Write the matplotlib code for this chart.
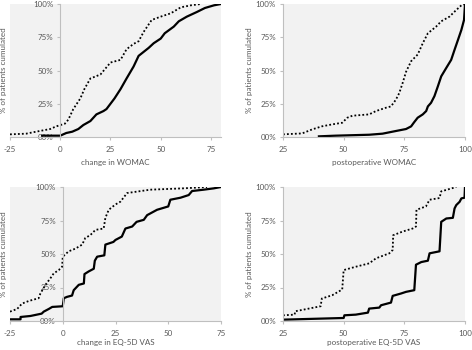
import matplotlib
matplotlib.use("Agg")
import matplotlib.pyplot as plt

# ---------------- data ----------------
# Panel 1: change in WOMAC
womac_change_solid_x = [-9, 0, 3, 6, 9, 11.5, 15, 18, 21.5, 23, 25, 27, 30, 33, 36.5, 39, 41.5, 44,
                        46.5, 50, 52, 56.5, 59, 63, 68, 72, 76.5, 80]
womac_change_solid_y = [1, 1, 3, 4, 6, 9, 12, 17, 19.5, 21, 25, 29, 36, 44, 53, 61, 64, 67,
                        70.5, 74, 78, 83, 87, 90.5, 94, 97, 99, 100]
womac_change_dot_x = [-25, -17, -12, -5, -2, 2.3, 4, 6.5, 10, 12, 15, 20, 25, 30, 33, 36.5, 39, 41.5,
                      45.5, 50, 55, 60, 65, 70]
womac_change_dot_y = [2, 2.5, 4, 6, 8, 10, 13, 21, 29, 36, 44, 47, 56, 58, 66, 70, 72, 79,
                      88, 90.5, 93, 97.5, 99, 100]

# Panel 2: postoperative WOMAC
womac_post_solid_x = [39.8, 46.7, 60.5, 66, 71.5, 75.7, 77.8, 79, 80.5, 82.6, 84, 84.7, 86, 87.4,
                      88.8, 90.2, 92.3, 94.3, 95.7, 97.1, 98.5, 99.6, 100]
womac_post_solid_y = [0.5, 1, 1.7, 2.5, 4.5, 6, 8, 11, 14.5, 17, 19.5, 23, 25.7, 30.7,
                      38, 45.6, 52, 58, 65.6, 73, 80.5, 88, 100]
womac_post_dot_x = [25, 32.9, 37, 41, 45.3, 49.4, 51.5, 53.6, 60.5, 63.3, 67.4, 69.5, 71.5, 72.9,
                    74.3, 75.7, 77.8, 80.5, 82.6, 84.7, 88.1, 90.2, 93.6, 96.4, 98.5, 100]
womac_post_dot_y = [2, 2.7, 5.7, 8, 9.5, 10.7, 14.5, 16, 17, 19.5, 22, 23, 28, 33,
                    40.6, 49, 57, 62, 70.5, 78, 83, 87, 90.5, 95.5, 99, 100]

# Panel 3: change in EQ-5D VAS
eq_change_solid_x = [-25, -20, -20, -15.3, -10, -9, -6.6, -5, 0, 0.5, 2, 4.4, 5.2, 7.6, 10, 10.3,
                     12.3, 14.7, 15.2, 16.3, 19.7, 20.2, 24, 25, 28, 29.7, 32.9, 35, 38.4, 40,
                     44.7, 50, 51, 55.8, 59.7, 61.3, 66.8, 71.6, 75]
eq_change_solid_y = [1.25, 1.25, 3, 3.75, 5.5, 7, 9, 10.5, 11, 17, 18, 19, 23, 27, 28, 35,
                     37, 39, 45, 48, 49, 57, 59, 60.5, 63, 69, 70.5, 74, 75.5, 79,
                     83, 85.5, 90.5, 92, 94, 97, 98, 99, 100]
eq_change_dot_x = [-25, -21.6, -19.3, -16, -11.4, -10.6, -8.2, -5.8, -4.3, -1.9, -0.3, 0, 2.8, 6,
                   9.2, 10.7, 13, 15.5, 19.4, 20.2, 21.8, 25, 27.3, 30.5, 41.5, 57.3, 68.4]
eq_change_dot_y = [7, 9, 13, 15, 17, 20.5, 27, 32, 35.5, 38, 40.5, 48, 52, 54,
                   57, 62, 64, 68, 69, 77, 83, 87, 89, 95.5, 98, 99, 100]

# Panel 4: postoperative EQ-5D VAS
eq_post_solid_x = [25, 50, 50.3, 55, 60, 60.5, 64.7, 65.4, 69.5, 70.2, 73.6, 75.7, 79.1, 79.8,
                   82, 84.7, 85.4, 89.5, 90.2, 92.3, 95, 95.7, 96.4, 97.8, 98.5, 99.8, 100]
eq_post_solid_y = [1, 2.25, 4.25, 4.75, 6.25, 9.25, 10, 11.75, 13.75, 18.75, 20.5, 21.75, 23, 42,
                   44, 45, 50.5, 52, 74, 76.5, 77, 84, 86.5, 89, 91.5, 92, 100]
eq_post_dot_x = [25, 29.8, 30, 35.6, 40.5, 41, 45.3, 49.4, 50, 55, 60.5, 63.3, 68.8, 70.2, 70.4,
                 74.3, 78.4, 79.8, 80, 83.9, 85.4, 89.5, 90.2, 95, 96.4]
eq_post_dot_y = [4.25, 4.75, 7.25, 9.25, 11, 16.75, 19.25, 23.5, 38, 40.5, 43, 46.75, 50.5, 53, 64,
                 66.75, 69, 70.5, 83, 85.5, 90.5, 91.75, 96.75, 99.25, 100]

y_ticks = [0, 25, 50, 75, 100]
y_tick_labels = ["00%", "25%", "50%", "75%", "100%"]
x_labels = ["change in WOMAC", "postoperative WOMAC", "change in EQ-5D VAS", "postoperative EQ-5D VAS"]
y_label = "% of patients cumulated"

# ---------------- drawing ----------------
plt.rcParams['font.family'] = ['Lato', 'DejaVu Sans']
W, H = 472, 350
fig = plt.figure(figsize=(W / 100, H / 100), dpi=100)

def px_axes(x0, y0, x1, y1):
    return fig.add_axes([x0 / W, 1 - y1 / H, (x1 - x0) / W, (y1 - y0) / H])

txt_col = "#595959"
ax_col = "#bfbfbf"
fs = 5.8

panels = [
    dict(box=(10, 4, 221, 137), xlim=(-25, 80), xticks=[-25, 0, 25, 50, 75], spine0=0,
         solid=(womac_change_solid_x, womac_change_solid_y), dot=(womac_change_dot_x, womac_change_dot_y),
         xlabel=x_labels[0], ylab_x=4, xlab_y=162),
    dict(box=(283, 4, 465, 137), xlim=(25, 100), xticks=[25, 50, 75, 100], spine0=25,
         solid=(womac_post_solid_x, womac_post_solid_y), dot=(womac_post_dot_x, womac_post_dot_y),
         xlabel=x_labels[1], ylab_x=249, xlab_y=162),
    dict(box=(10, 187, 221, 321), xlim=(-25, 75), xticks=[-25, 0, 25, 50, 75], spine0=0,
         solid=(eq_change_solid_x, eq_change_solid_y), dot=(eq_change_dot_x, eq_change_dot_y),
         xlabel=x_labels[2], ylab_x=4, xlab_y=343),
    dict(box=(283, 187, 465, 321), xlim=(25, 100), xticks=[25, 50, 75, 100], spine0=25,
         solid=(eq_post_solid_x, eq_post_solid_y), dot=(eq_post_dot_x, eq_post_dot_y),
         xlabel=x_labels[3], ylab_x=249, xlab_y=343),
]

for p in panels:
    ax = px_axes(*p['box'])
    ax.set_facecolor("#f2f2f2")
    ax.set_xlim(*p['xlim'])
    ax.set_ylim(0, 100)
    ax.plot(*p['dot'], color="black", lw=1.3, linestyle=(0, (1, 1.2)), solid_capstyle='butt')
    ax.plot(*p['solid'], color="black", lw=1.6)
    for s in ['top', 'right']:
        ax.spines[s].set_visible(False)
    ax.spines['left'].set_position(('data', p['spine0']))
    ax.spines['left'].set_color(ax_col)
    ax.spines['bottom'].set_color(ax_col)
    ax.spines['left'].set_linewidth(0.8)
    ax.spines['bottom'].set_linewidth(0.8)
    ax.set_xticks(p['xticks'])
    ax.set_xticklabels([str(v) for v in p['xticks']])
    ax.set_yticks(y_ticks)
    ax.set_yticklabels(y_tick_labels)
    ax.tick_params(axis='both', colors=ax_col, labelcolor=txt_col, labelsize=fs,
                   length=2.5, width=0.8, direction='out')
    ax.tick_params(axis='x', pad=4)
    ax.tick_params(axis='y', pad=2.5)
    x0, y0, x1, y1 = p['box']
    fig.text(p['ylab_x'] / W, 1 - ((y0 + y1) / 2) / H, y_label, rotation=90,
             ha='center', va='center', fontsize=fs, color=txt_col)
    fig.text(((x0 + x1) / 2) / W, 1 - p['xlab_y'] / H, p['xlabel'],
             ha='center', va='center', fontsize=fs, color=txt_col)

fig.savefig("out.png", dpi=100)
